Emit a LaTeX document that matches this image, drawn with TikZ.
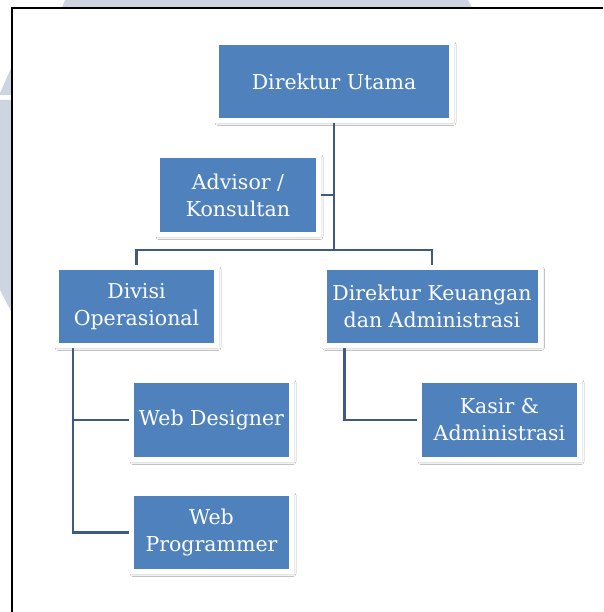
\documentclass[tikz,border=0pt]{standalone}
\usepackage{fontspec}
\setmainfont{DejaVu Serif}
\usepackage{tikz}
\usetikzlibrary{calc}
\usetikzlibrary{shadows.blur}

\definecolor{boxblue}{RGB}{79,129,189}
\definecolor{linkblue}{RGB}{62,90,130}
\definecolor{markgray}{RGB}{204,213,224}
\newcommand{\orgfont}{\fontsize{20.5}{27}\selectfont}

\tikzset{
	orgbox/.style={rectangle, fill=boxblue, draw=white, line width=5pt, text=white, font=\orgfont, align=center, inner sep=0pt,
		blur shadow={shadow xshift=1.5pt, shadow yshift=-2pt, shadow blur radius=3pt, shadow opacity=35}},
	link/.style={draw=linkblue, line width=2.5pt}
}

\begin{document}
\begin{tikzpicture}[x=1pt,y=-1pt]
					\useasboundingbox (0,0) rectangle (603,612);
					%watermark and frame
					\fill[markgray] (65,0) -- (468,0) -- (472,8) -- (62,8) -- cycle;
					\fill[markgray] (0,93) -- (12,66) -- (12,95) -- (0,95) -- cycle;
					\fill[markgray] (0,100) -- (12,100) -- (12,313) -- (0,290) -- cycle;
					\fill[white] (12,8) rectangle (603,612);
					\draw[line width=1.5pt] (12,612) -- (12,8) -- (603,8);
					%units
					\node[orgbox, minimum width=235, minimum height=78] (utama) at (334,81.5) {Direktur Utama};
					\node[orgbox, minimum width=161, minimum height=79] (advisor) at (238,195) {Advisor /\\Konsultan};
					\node[orgbox, minimum width=160, minimum height=78] (divisi) at (136.5,306.5) {Divisi\\Operasional};
					\node[orgbox, minimum width=216, minimum height=78] (keuangan) at (432,306.5) {Direktur Keuangan\\dan Administrasi};
					\node[orgbox, minimum width=160, minimum height=79] (designer) at (211.5,420) {Web Designer};
					\node[orgbox, minimum width=160, minimum height=79] (kasir) at (499.5,420) {Kasir \&\\Administrasi};
					\node[orgbox, minimum width=160, minimum height=78] (programmer) at (211.5,532.5) {Web\\Programmer};
					\coordinate (hub) at (334,250);
					%links
					\draw[link] (utama.south) -- (hub);
					\draw[link] (advisor.east) -- (advisor.east -| hub);
					\draw[link] (divisi.north) |- (hub) -| (keuangan.north);
					\draw[link] ([xshift=19]divisi.south west) |- (designer.west);
					\draw[link] ([xshift=19]divisi.south west) |- (programmer.west);
					\draw[link] ([xshift=23]keuangan.south west) |- (kasir.west);
				\end{tikzpicture}
\end{document}
